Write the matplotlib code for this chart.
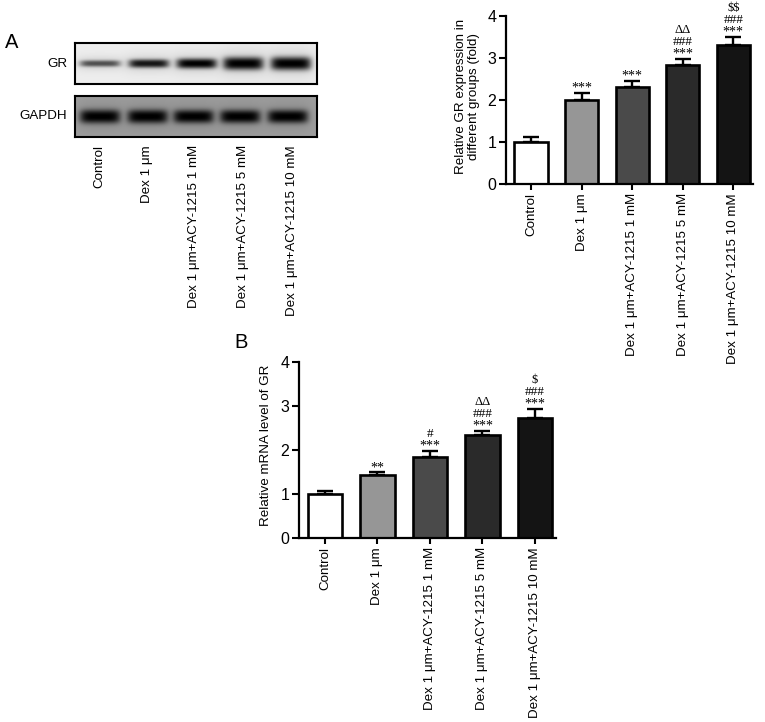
import numpy as np
import matplotlib
matplotlib.use('Agg')
import matplotlib.pyplot as plt

plt.rcParams['font.family'] = ['Liberation Sans', 'DejaVu Sans']

W, H = 765, 722

# Data
groups = ['Control', 'Dex 1 \u03bcm', 'Dex 1 \u03bcm+ACY-1215 1 mM',
          'Dex 1 \u03bcm+ACY-1215 5 mM', 'Dex 1 \u03bcm+ACY-1215 10 mM']
colors = ['#ffffff', '#969696', '#4a4a4a', '#2a2a2a', '#141414']

gr_protein = [1.0, 2.0, 2.32, 2.83, 3.32]
gr_protein_err = [0.12, 0.16, 0.13, 0.15, 0.18]
gr_protein_marks = [[], ['***'], ['***'], ['***', '###', '\u0394\u0394'], ['***', '###', '$$']]

gr_mrna = [1.0, 1.44, 1.84, 2.33, 2.72]
gr_mrna_err = [0.07, 0.05, 0.13, 0.10, 0.22]
gr_mrna_marks = [[], ['**'], ['***', '#'], ['***', '###', '\u0394\u0394'], ['***', '###', '$']]

yticks = [0, 1, 2, 3, 4]

# Blot bands: centre x (fraction of the blot width), height and darkness
gr_band_x = [0.103, 0.305, 0.503, 0.696, 0.893]
gr_band_h = [3.2, 4.2, 5.0, 6.4, 6.6]
gr_band_d = [0.62, 0.9, 1.0, 1.0, 1.0]
gapdh_band_x = [0.103, 0.300, 0.490, 0.683, 0.880]
gapdh_band_h = [6.8, 6.8, 6.6, 6.6, 6.6]
gapdh_band_d = [1.0, 1.0, 1.0, 1.0, 1.0]

fig = plt.figure(figsize=(W / 100, H / 100), dpi=100)


def px_axes(left, top, right, bottom):
    return fig.add_axes([left / W, 1 - bottom / H, (right - left) / W, (bottom - top) / H])


def draw_blot(box, band_x, band_h, band_d, bg, band_w=0.083):
    ax = px_axes(*box)
    w = box[2] - box[0]
    h = box[3] - box[1]
    xx, yy = np.meshgrid(np.linspace(0, 1, w * 2), np.linspace(-h / 2, h / 2, h * 2))
    img = np.full(xx.shape, bg)
    for x, bh, d in zip(band_x, band_h, band_d):
        shape = np.exp(-(np.abs(xx - x) / band_w) ** 6) * np.exp(-(np.abs(yy) / bh) ** 2.6)
        img = img * (1 - d * shape)
        # soft halo round each band
        img = img * (1 - 0.12 * np.exp(-(np.abs(xx - x) / (band_w * 1.2)) ** 4) * np.exp(-(yy / (bh * 2.2)) ** 2))
    ax.imshow(img, cmap='gray', vmin=0, vmax=1, aspect='auto', interpolation='bilinear')
    ax.set_xticks([])
    ax.set_yticks([])
    for s in ax.spines.values():
        s.set_linewidth(1.5)
    return ax


def bar_panel(box, values, errs, marks, xlim, ylabel, labelpad, ypos):
    ax = px_axes(*box)
    x = np.arange(len(values))
    ax.bar(x, values, width=0.655, color=colors, edgecolor='black', linewidth=1.9, zorder=2)
    ax.errorbar(x, values, yerr=[np.zeros(len(errs)), errs], fmt='none', ecolor='black',
                elinewidth=1.7, capsize=6, capthick=1.7, zorder=1)
    ax.set_xlim(*xlim)
    ax.set_ylim(0, 4)
    ax.set_yticks(yticks)
    ax.set_xticks(x)
    ax.set_xticklabels(groups, rotation=90, fontsize=9.65)
    ax.tick_params(axis='y', labelsize=11.5, width=1.5, length=5, pad=2)
    ax.tick_params(axis='x', width=1.5, length=4.5, pad=2)
    ax.spines['top'].set_visible(False)
    ax.spines['right'].set_visible(False)
    ax.spines['left'].set_linewidth(1.6)
    ax.spines['bottom'].set_linewidth(1.6)
    ax.set_ylabel(ylabel, fontsize=9.65, labelpad=labelpad, linespacing=1.2, y=ypos)
    for i, stack in enumerate(marks):
        top = values[i] + errs[i]
        for j, m in enumerate(stack):
            # baseline offset for each row of the significance stack
            if m.startswith('*'):
                off, size = 1.0, 10
            elif m.startswith('#') or j == 1:
                off, size = 10.0, 9.5
            else:
                off, size = 18.5, 9
            ax.annotate(m.replace('$', r'\$'), (i, top), xytext=(0, off), textcoords='offset points',
                        ha='center', va='baseline', fontsize=size,
                        family=['Liberation Serif', 'DejaVu Sans'])
    return ax


draw_blot((75, 43, 317, 84), gr_band_x, gr_band_h, gr_band_d, 0.93)
draw_blot((75, 96, 317, 137), gapdh_band_x, gapdh_band_h, gapdh_band_d, 0.62)

fig.text(67 / W, 1 - 64 / H, 'GR', ha='right', va='center', fontsize=9.65)
fig.text(67 / W, 1 - 116 / H, 'GAPDH', ha='right', va='center', fontsize=9.65)

blot_label_x = [99, 147, 194, 243, 292]
for lx, g in zip(blot_label_x, groups):
    fig.text(lx / W, 1 - 145 / H, g, rotation=90, ha='center', va='top', fontsize=9.65)

fig.text(5 / W, 1 - 42 / H, 'A', ha='left', va='center', fontsize=14.5)
fig.text(234 / W, 1 - 343 / H, 'B', ha='left', va='center', fontsize=14.5)

bar_panel((506, 16, 753, 184), gr_protein, gr_protein_err, gr_protein_marks, (-0.494, 4.39),
          'Relative GR expression in\ndifferent groups (fold)', 5, 0.52)
bar_panel((299, 362, 556, 538), gr_mrna, gr_mrna_err, gr_mrna_marks, (-0.495, 4.4),
          'Relative mRNA level of GR', 6, 0.525)

fig.savefig('out.png', dpi=100)
